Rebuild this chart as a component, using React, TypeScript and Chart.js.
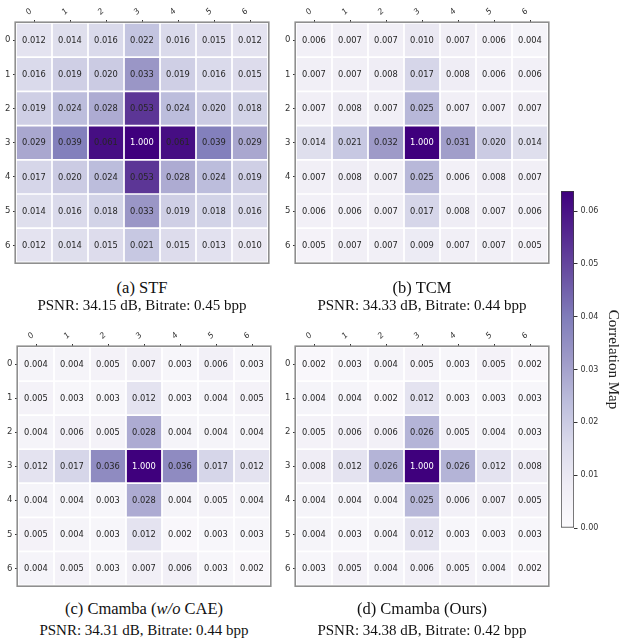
import React, { useEffect, useRef } from 'react';
import { Chart, registerables } from 'chart.js';

Chart.register(...registerables);

const rowLabels = ['0', '1', '2', '3', '4', '5', '6'];
const colLabels = ['0', '1', '2', '3', '4', '5', '6'];

const stfValues = [
  [0.012, 0.014, 0.016, 0.022, 0.016, 0.015, 0.012],
  [0.016, 0.019, 0.020, 0.033, 0.019, 0.016, 0.015],
  [0.019, 0.024, 0.028, 0.053, 0.024, 0.020, 0.018],
  [0.029, 0.039, 0.061, 1.000, 0.061, 0.039, 0.029],
  [0.017, 0.020, 0.024, 0.053, 0.028, 0.024, 0.019],
  [0.014, 0.016, 0.018, 0.033, 0.019, 0.018, 0.016],
  [0.012, 0.014, 0.015, 0.021, 0.015, 0.013, 0.010],
];
const tcmValues = [
  [0.006, 0.007, 0.007, 0.010, 0.007, 0.006, 0.004],
  [0.007, 0.007, 0.008, 0.017, 0.008, 0.006, 0.006],
  [0.007, 0.008, 0.007, 0.025, 0.007, 0.007, 0.007],
  [0.014, 0.021, 0.032, 1.000, 0.031, 0.020, 0.014],
  [0.007, 0.008, 0.007, 0.025, 0.006, 0.008, 0.007],
  [0.006, 0.006, 0.007, 0.017, 0.008, 0.007, 0.006],
  [0.005, 0.007, 0.007, 0.009, 0.007, 0.007, 0.005],
];
const cmambaNoCaeValues = [
  [0.004, 0.004, 0.005, 0.007, 0.003, 0.006, 0.003],
  [0.005, 0.003, 0.003, 0.012, 0.003, 0.004, 0.005],
  [0.004, 0.006, 0.005, 0.028, 0.004, 0.004, 0.004],
  [0.012, 0.017, 0.036, 1.000, 0.036, 0.017, 0.012],
  [0.004, 0.004, 0.003, 0.028, 0.004, 0.005, 0.004],
  [0.005, 0.004, 0.003, 0.012, 0.002, 0.003, 0.003],
  [0.004, 0.005, 0.003, 0.007, 0.006, 0.003, 0.002],
];
const cmambaOursValues = [
  [0.002, 0.003, 0.004, 0.005, 0.003, 0.005, 0.002],
  [0.004, 0.004, 0.002, 0.012, 0.003, 0.003, 0.003],
  [0.005, 0.006, 0.006, 0.026, 0.005, 0.004, 0.003],
  [0.008, 0.012, 0.026, 1.000, 0.026, 0.012, 0.008],
  [0.004, 0.004, 0.004, 0.025, 0.006, 0.007, 0.005],
  [0.004, 0.003, 0.004, 0.012, 0.003, 0.003, 0.003],
  [0.003, 0.005, 0.004, 0.006, 0.005, 0.004, 0.002],
];

const colorbarTicks = [0, 0.01, 0.02, 0.03, 0.04, 0.05, 0.06];
const colorMin = 0;
const colorMax = 0.0638;
const colorbarTitle = 'Correlation Map';

// matplotlib "Purples" anchor colours
const purplesStops = ['#fcfbfd', '#efedf5', '#dadaeb', '#bcbddc', '#9e9ac8', '#807dba', '#6a51a3', '#54278f', '#3f007d'];

function hexToRgb(h: string) {
  return [parseInt(h.slice(1, 3), 16), parseInt(h.slice(3, 5), 16), parseInt(h.slice(5, 7), 16)];
}
function purples(t: number) {
  const c = Math.max(0, Math.min(1, t));
  const n = purplesStops.length - 1;
  const pos = c * n;
  const i = Math.min(n - 1, Math.floor(pos));
  const f = pos - i;
  const a = hexToRgb(purplesStops[i]);
  const b = hexToRgb(purplesStops[i + 1]);
  const r = a.map((v, k) => Math.round(v + (b[k] - v) * f));
  return `rgb(${r[0]},${r[1]},${r[2]})`;
}

const TICK_FONT = "'DejaVu Sans', sans-serif";
const SERIF = "'Liberation Serif', 'Times New Roman', serif";

type Rect = { x: number; y: number; w: number; h: number };

const L = 22, T = 28, R = 8, B = 6;

function Heatmap({ values, rect }: { values: number[][]; rect: Rect }) {
  const ref = useRef<HTMLCanvasElement>(null);
  useEffect(() => {
    const canvas = ref.current!;
    const cells: { x: string; y: number[]; v: number }[] = [];
    values.forEach((row, r) => row.forEach((v, c) => cells.push({ x: colLabels[c], y: [r, r + 1], v })));

    const valuePlugin = {
      id: 'cellValues',
      afterDatasetsDraw(chart: any) {
        const ctx = chart.ctx;
        const meta = chart.getDatasetMeta(0);
        ctx.save();
        ctx.font = `8.3px ${TICK_FONT}`;
        ctx.textAlign = 'center';
        ctx.textBaseline = 'middle';
        meta.data.forEach((el: any, i: number) => {
          const v = cells[i].v;
          ctx.fillStyle = v > 0.5 ? '#ffffff' : '#262626';
          ctx.fillText(v.toFixed(3), el.x, (el.y + el.base) / 2 + 0.5);
        });
        ctx.restore();
      },
      afterDraw(chart: any) {
        const { left, top, right, bottom } = chart.chartArea;
        const ctx = chart.ctx;
        ctx.save();
        ctx.strokeStyle = '#8f8f8f';
        ctx.lineWidth = 1.6;
        ctx.strokeRect(left - 0.8, top - 0.8, right - left + 1.6, bottom - top + 1.6);
        ctx.restore();
      },
    };

    const chart = new Chart(canvas, {
      type: 'bar',
      data: {
        labels: colLabels,
        datasets: [
          {
            data: cells as any,
            backgroundColor: (ctx: any) => purples((ctx.raw.v - colorMin) / (colorMax - colorMin)),
            borderColor: '#ffffff',
            borderWidth: 1.2,
            borderSkipped: false,
            barPercentage: 1,
            categoryPercentage: 1,
          } as any,
        ],
      },
      options: {
        animation: false,
        responsive: false,
        devicePixelRatio: 1,
        layout: { padding: { left: 0, top: 0, right: R, bottom: B } },
        plugins: { legend: { display: false }, tooltip: { enabled: false }, title: { display: false } },
        scales: {
          x: {
            type: 'category',
            position: 'top',
            offset: true,
            grid: { display: true, drawOnChartArea: false, drawTicks: true, tickLength: 3, offset: false, color: '#333' },
            border: { display: false },
            ticks: {
              font: { family: TICK_FONT, size: 8, style: 'italic' },
              color: '#333',
              minRotation: 45,
              maxRotation: 45,
              padding: 3,
            },
            afterFit: (s: any) => { s.height = T; },
          },
          y: {
            type: 'linear',
            min: 0,
            max: 7,
            reverse: true,
            grid: { display: true, drawOnChartArea: false, drawTicks: true, tickLength: 3, color: '#333' },
            border: { display: false },
            afterBuildTicks: (s: any) => { s.ticks = rowLabels.map((_, i) => ({ value: i + 0.5 })); },
            ticks: {
              font: { family: TICK_FONT, size: 8.5 },
              color: '#333',
              padding: 2.5,
              callback: (_v: any, i: number) => rowLabels[i],
            },
            afterFit: (s: any) => { s.width = L; },
          },
        },
      } as any,
      plugins: [valuePlugin],
    });
    return () => chart.destroy();
  }, [values, rect]);
  return (
    <canvas
      ref={ref}
      width={rect.w + L + R}
      height={rect.h + T + B}
      style={{ position: 'absolute', left: rect.x - L, top: rect.y - T, width: rect.w + L + R, height: rect.h + T + B }}
    />
  );
}

function Colorbar() {
  const ref = useRef<HTMLCanvasElement>(null);
  const W = 69, H = 360, X = 555, Y = 180;
  useEffect(() => {
    const canvas = ref.current!;
    const chart = new Chart(canvas, {
      type: 'bar',
      data: {
        labels: [''],
        datasets: [
          {
            data: [[colorMin, colorMax]],
            backgroundColor: (ctx: any) => {
              const area = ctx.chart.chartArea;
              if (!area) return purples(0.5);
              const g = ctx.chart.ctx.createLinearGradient(0, area.bottom, 0, area.top);
              purplesStops.forEach((c, i) => g.addColorStop(i / (purplesStops.length - 1), c));
              return g;
            },
            borderColor: '#3a3a3a',
            borderWidth: 1,
            borderSkipped: false,
            barPercentage: 1,
            categoryPercentage: 1,
          } as any,
        ],
      },
      options: {
        animation: false,
        responsive: false,
        devicePixelRatio: 1,
        layout: { padding: { left: 6, top: 11, right: 0, bottom: 12 } },
        plugins: { legend: { display: false }, tooltip: { enabled: false } },
        scales: {
          x: { type: 'category', display: false, offset: true },
          y: {
            type: 'linear',
            position: 'right',
            min: colorMin,
            max: colorMax,
            afterBuildTicks: (s: any) => { s.ticks = colorbarTicks.map((v) => ({ value: v })); },
            grid: { display: true, drawOnChartArea: false, drawTicks: true, tickLength: 3.5, color: '#333' },
            border: { display: false },
            ticks: {
              font: { family: TICK_FONT, size: 8 },
              color: '#333',
              padding: 3,
              callback: (v: any) => Number(v).toFixed(2),
            },
            title: {
              display: true,
              text: colorbarTitle,
              font: { family: SERIF, size: 15 },
              color: '#222',
              padding: { top: 2, bottom: 0 },
            },
            afterFit: (s: any) => { s.width = 50; },
          },
        },
      } as any,
    });
    return () => chart.destroy();
  }, []);
  return <canvas ref={ref} width={W} height={H} style={{ position: 'absolute', left: X, top: Y, width: W, height: H }} />;
}

function Caption({ cx, y1, y2, title, sub }: { cx: number; y1: number; y2: number; title: React.ReactNode; sub: string }) {
  const common: React.CSSProperties = {
    position: 'absolute',
    width: 300,
    left: cx - 150,
    textAlign: 'center',
    fontFamily: SERIF,
    color: '#111',
    whiteSpace: 'nowrap',
  };
  return (
    <>
      <div style={{ ...common, top: y1 - 10, height: 20, lineHeight: '20px', fontSize: 16.5 }}>{title}</div>
      <div style={{ ...common, top: y2 - 9, height: 18, lineHeight: '18px', fontSize: 15 }}>{sub}</div>
    </>
  );
}

const rectA = { x: 16, y: 23, w: 252, h: 241 };
const rectB = { x: 296, y: 23, w: 252, h: 241 };
const rectC = { x: 18, y: 347, w: 252, h: 240 };
const rectD = { x: 296, y: 347, w: 252, h: 240 };

export default function App() {
  return (
    <div style={{ position: 'absolute', left: 0, top: 0, width: 624, height: 641, background: '#fff', overflow: 'hidden' }}>
      <Heatmap values={stfValues} rect={rectA} />
      <Heatmap values={tcmValues} rect={rectB} />
      <Heatmap values={cmambaNoCaeValues} rect={rectC} />
      <Heatmap values={cmambaOursValues} rect={rectD} />
      <Colorbar />
      <Caption cx={142} y1={288} y2={305} title="(a) STF" sub="PSNR: 34.15 dB, Bitrate: 0.45 bpp" />
      <Caption cx={422} y1={288} y2={305} title="(b) TCM" sub="PSNR: 34.33 dB, Bitrate: 0.44 bpp" />
      <Caption cx={144} y1={609} y2={630} title={<>(c) Cmamba (<i>w/o</i> CAE)</>} sub="PSNR: 34.31 dB, Bitrate: 0.44 bpp" />
      <Caption cx={422} y1={609} y2={630} title="(d) Cmamba (Ours)" sub="PSNR: 34.38 dB, Bitrate: 0.42 bpp" />
    </div>
  );
}
